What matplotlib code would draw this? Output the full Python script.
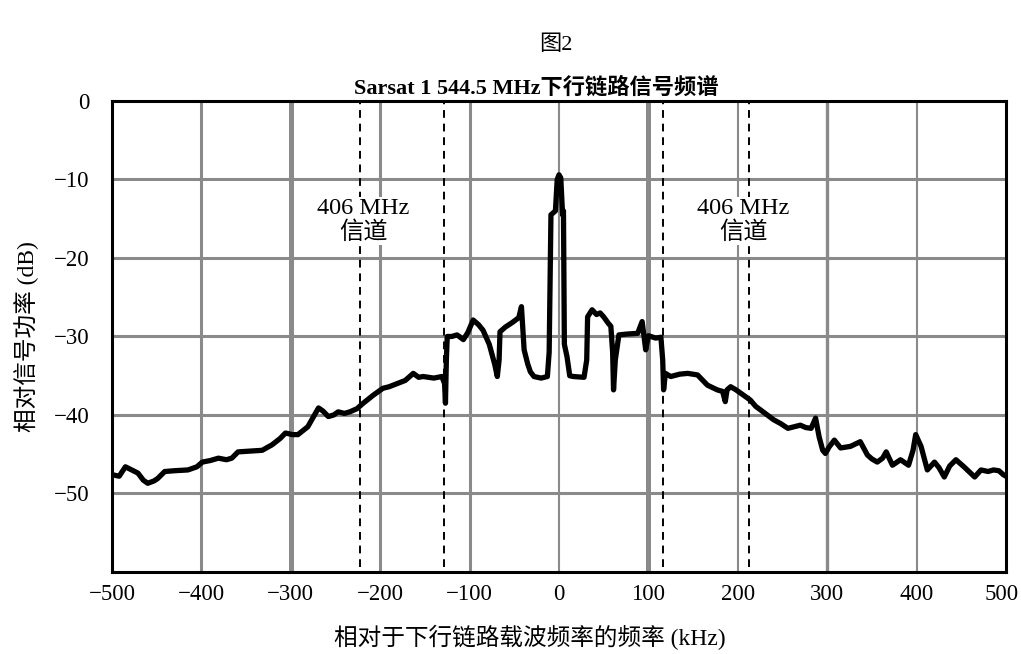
import matplotlib
matplotlib.use("Agg")
import matplotlib.pyplot as plt
import matplotlib.transforms as mtransforms

plt.rcParams['font.family'] = ['Liberation Serif', 'Noto Sans CJK SC', 'DejaVu Sans']

# spectrum: frequency offset (kHz) and relative power (dB)
freq = [-500, -492, -485, -478, -471, -465, -460, -453, -449, -441, -430, -415,
        -405, -399, -390, -381, -372, -366, -359, -345, -332, -321, -312, -306,
        -298, -292, -281, -276, -269, -264, -258, -252, -247, -240, -234, -226,
        -219, -208, -197, -190, -181, -172, -163, -157, -152, -140, -131, -128,
        -127, -126, -125, -120, -114, -107, -102, -96, -90, -85, -78, -72,
        -69, -67, -66, -60, -52, -45, -42, -39, -35, -32, -28, -20,
        -13, -11, -9, -4, -2, 0, 2, 4, 5, 6, 9, 12,
        16, 28, 31, 32, 37, 42, 46, 50, 55, 58, 60, 61,
        63, 67, 75, 88, 93, 97, 100, 108, 114, 116, 117, 119,
        125, 135, 144, 155, 166, 177, 183, 186, 188, 192, 198, 203,
        214, 220, 226, 233, 240, 248, 256, 263, 270, 276, 282, 287,
        291, 295, 298, 302, 308, 315, 326, 337, 345, 350, 356, 362,
        366, 373, 382, 391, 396, 399, 405, 412, 420, 425, 431, 437,
        444, 453, 465, 472, 480, 486, 492, 497, 500]
level = [-47.6, -47.8, -46.6, -47.0, -47.4, -48.3, -48.7, -48.4, -48.1, -47.2, -47.1, -47.0,
         -46.6, -46.0, -45.8, -45.5, -45.7, -45.5, -44.7, -44.6, -44.5, -43.8, -43.0, -42.3,
         -42.5, -42.5, -41.5, -40.5, -39.1, -39.5, -40.2, -40.0, -39.6, -39.8, -39.6, -39.2,
         -38.5, -37.5, -36.6, -36.4, -36.0, -35.6, -34.7, -35.2, -35.1, -35.3, -35.1, -36.0,
         -38.5, -33.0, -30.0, -30.0, -29.8, -30.4, -29.5, -27.9, -28.5, -29.2, -31.0, -33.5,
         -35.1, -33.0, -29.4, -28.8, -28.2, -27.6, -26.2, -31.7, -33.5, -34.5, -35.1, -35.3,
         -35.1, -32.0, -14.5, -14.0, -10.0, -9.4, -9.8, -14.5, -14.0, -31.0, -32.6, -35.0,
         -35.1, -35.2, -33.0, -27.5, -26.6, -27.2, -27.0, -27.5, -28.3, -28.7, -32.0, -36.8,
         -33.0, -29.8, -29.7, -29.6, -28.1, -31.7, -29.9, -30.2, -30.1, -33.0, -36.8, -34.7,
         -35.1, -34.8, -34.7, -34.9, -36.2, -36.8, -37.0, -38.3, -36.8, -36.4, -36.8, -37.2,
         -38.1, -38.9, -39.4, -40.0, -40.6, -41.1, -41.7, -41.5, -41.3, -41.6, -41.7, -40.4,
         -42.8, -44.5, -44.9, -44.1, -43.2, -44.2, -44.0, -43.4, -45.1, -45.6, -46.0, -45.5,
         -44.7, -46.4, -45.7, -46.4, -44.5, -42.5, -44.0, -47.0, -46.0, -46.7, -47.9, -46.5,
         -45.7, -46.6, -47.9, -47.0, -47.2, -47.0, -47.1, -47.6, -47.8]

channel_edges = [-223, -129, 116, 213]
channel_label_x = [-219, 206]
channel_label = "406 MHz\n信道"

xticks = [-500, -400, -300, -200, -100, 0, 100, 200, 300, 400, 500]
yticks = [0, -10, -20, -30, -40, -50]

fig = plt.figure(figsize=(10.21, 6.54), dpi=100)
ax = fig.add_axes([0.1097, 0.1254, 0.8756, 0.7202])

# grid: the scanned original has uneven line weights
vwidth = {-400: 2.2, -300: 3.6, -200: 2.2, -100: 2.2, 0: 1.5, 100: 3.6, 200: 1.5, 300: 2.4, 400: 1.5}
for xv, w in vwidth.items():
    ax.axvline(xv, color='#8a8a8a', lw=w, zorder=1)
for yv in yticks[1:]:
    ax.axhline(yv, color='#8a8a8a', lw=2.2, zorder=1)

for xe in channel_edges:
    ax.axvline(xe, ymin=0.01, ymax=1, color='black', lw=1.4, ls=(0, (4, 3)), zorder=2)

ax.plot(freq, level, color='black', lw=3.8, zorder=4)

for xl in channel_label_x:
    ax.text(xl, -15.3, channel_label, ha='center', va='center', fontsize=17.5,
            linespacing=1.1, zorder=3,
            bbox=dict(facecolor='white', edgecolor='none', pad=1))

ax.set_xlim(-500, 500)
ax.set_ylim(-60, 0)
ax.set_xticks(xticks)
ax.set_yticks(yticks)
ax.tick_params(length=0, labelsize=16.5)
ax.tick_params(axis='x', pad=9)
ax.tick_params(axis='y', pad=16)
for s in ax.spines.values():
    s.set_linewidth(2.2)
    s.set_zorder(5)

# keep the last x label inside the figure edge
last = ax.get_xticklabels()[-1]
last.set_transform(last.get_transform() + mtransforms.ScaledTranslation(-4 / 100, 0, fig.dpi_scale_trans))

ax.set_xlabel("相对于下行链路载波频率的频率 (kHz)", fontsize=17)
ax.xaxis.set_label_coords(0.4676, -0.113)
ax.set_ylabel("相对信号功率 (dB)", fontsize=17)
ax.yaxis.set_label_coords(-0.082, 0.5)

fig.text(0.5445, 0.931, "图2", ha='center', va='center', fontsize=16)
fig.text(0.5255, 0.866, "Sarsat 1 544.5 MHz下行链路信号频谱", ha='center', va='center',
         fontsize=16, fontweight='bold')

fig.savefig("out.png", dpi=100)
